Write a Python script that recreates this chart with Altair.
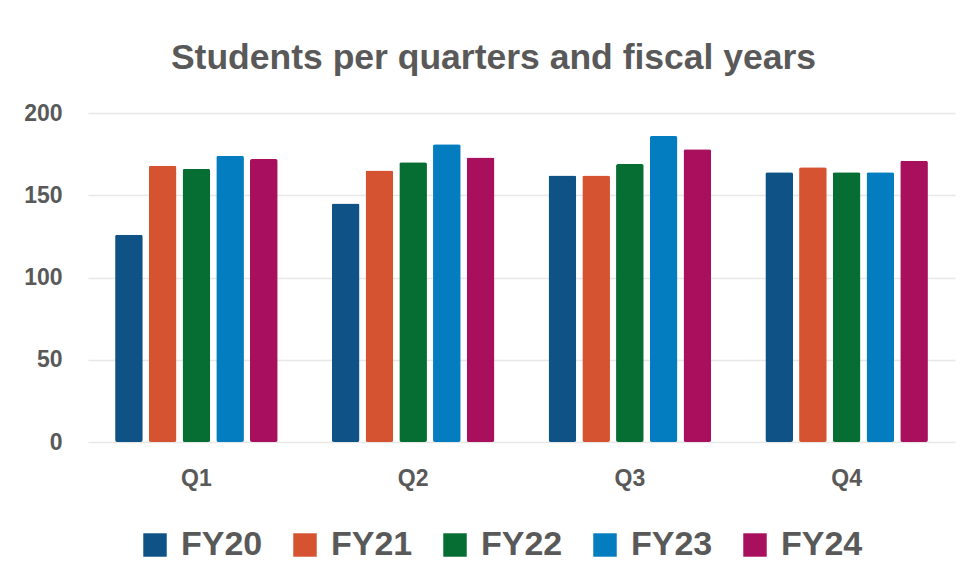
import altair as alt
import pandas as pd

quarters = ["Q1", "Q2", "Q3", "Q4"]
years = ["FY20", "FY21", "FY22", "FY23", "FY24"]
fy20 = [126, 145, 162, 164]
fy21 = [168, 165, 162, 167]
fy22 = [166, 170, 169, 164]
fy23 = [174, 181, 186, 164]
fy24 = [172, 173, 178, 171]
colors = ["#0E5286", "#D55330", "#076E33", "#047CC0", "#A8105E"]

series = [fy20, fy21, fy22, fy23, fy24]
rows = []
for y, vals in zip(years, series):
    for q, v in zip(quarters, vals):
        rows.append({"Quarter": q, "Year": y, "Students": v})
df = pd.DataFrame(rows)

txt = "#595959"
font = "Liberation Sans"

chart = alt.Chart(df).mark_bar(cornerRadius=2).encode(
    x=alt.X("Quarter:N", sort=quarters, title=None,
            scale=alt.Scale(paddingInner=0.25, paddingOuter=0.125),
            axis=alt.Axis(labelAngle=0, labelFont=font, labelFontWeight="bold",
                          labelFontSize=23, labelColor=txt, labelPadding=25,
                          ticks=False, domain=False, grid=False)),
    xOffset=alt.XOffset("Year:N", sort=years,
                        scale=alt.Scale(paddingInner=0.18, paddingOuter=0)),
    y=alt.Y("Students:Q", title=None,
            scale=alt.Scale(domain=[0, 200]),
            axis=alt.Axis(values=[0, 50, 100, 150, 200], labelFont=font,
                          labelFontWeight="bold", labelFontSize=23, labelColor=txt,
                          labelPadding=26, ticks=False, domain=False,
                          gridColor="#E8E8E8", gridWidth=1.5)),
    color=alt.Color("Year:N", sort=years,
                    scale=alt.Scale(domain=years, range=colors),
                    legend=alt.Legend(title=None, orient="none", direction="horizontal",
                                      legendX=50, legendY=415,
                                      symbolType="square", symbolSize=550,
                                      symbolStrokeWidth=0, symbolOpacity=1,
                                      labelFont=font, labelFontWeight="bold",
                                      labelFontSize=34, labelColor=txt,
                                      labelOffset=9, columnPadding=25, padding=0)),
).properties(
    width=867,
    height=329,
    background="white",
    title=alt.TitleParams("Students per quarters and fiscal years", font=font,
                          fontWeight="bold", fontSize=35.5, color=txt,
                          anchor="middle", dx=-28, offset=26),
    autosize=alt.AutoSizeParams(type="none"),
    padding={"left": 80, "top": 105, "right": 6, "bottom": 138},
).configure_view(stroke=None, strokeWidth=0)

chart.save("out.html", embed_options={"renderer": "svg", "actions": False})
